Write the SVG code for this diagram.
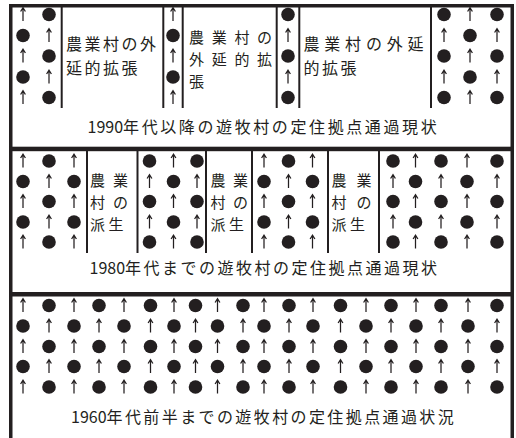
<svg xmlns="http://www.w3.org/2000/svg" width="516" height="438" viewBox="0 0 516 438">
<style>
.t{font-family:"Noto Sans CJK JP","Noto Sans CJK SC",sans-serif;font-size:16px;fill:#231f20;letter-spacing:2.5px}
.s{font-size:15px;letter-spacing:3.5px}
.sep{stroke:#231f20;stroke-width:2}
.bd{fill:#231f20}
</style>
<defs>
<path id="ar" d="M0,6.5V-6.5M-2.4,-3L0,-6.9L2.4,-3" fill="none" stroke="#231f20" stroke-width="1.25"/>
<circle id="dt" r="6.8" fill="#231f20"/>
</defs>
<rect width="516" height="438" fill="#fff"/>
<g id="frame">
<rect class="bd" x="9" y="4" width="505" height="3.5"/>
<rect class="bd" x="9" y="4" width="3.5" height="434"/>
<rect class="bd" x="510.5" y="4" width="3.5" height="434"/>
<rect class="bd" x="9" y="146.7" width="505" height="4.5"/>
<rect class="bd" x="9" y="292" width="505" height="4.5"/>
</g>
<g id="connectors">
<g id="s1-lines" class="sep">
<line x1="61.7" y1="7" x2="61.7" y2="108"/>
<line x1="163.3" y1="7" x2="163.3" y2="108"/>
<line x1="182.7" y1="7" x2="182.7" y2="108"/>
<line x1="276.7" y1="7" x2="276.7" y2="108"/>
<line x1="299.3" y1="7" x2="299.3" y2="108"/>
<line x1="431" y1="7" x2="431" y2="108"/>
</g>
<g id="s2-lines" class="sep">
<line x1="87" y1="151" x2="87" y2="253"/>
<line x1="137.5" y1="151" x2="137.5" y2="253"/>
<line x1="206" y1="151" x2="206" y2="253"/>
<line x1="252" y1="151" x2="252" y2="253"/>
<line x1="328" y1="151" x2="328" y2="253"/>
<line x1="379" y1="151" x2="379" y2="253"/>
</g>
</g>
<g id="section1">
<g id="s1-marks">
<use href="#ar" x="23" y="14.5"/><use href="#dt" x="23" y="35.5"/><use href="#ar" x="23" y="56"/><use href="#dt" x="23" y="77"/><use href="#ar" x="23" y="97.5"/>
<use href="#dt" x="49" y="14.5"/><use href="#ar" x="49" y="35.5"/><use href="#dt" x="49" y="56"/><use href="#ar" x="49" y="77"/><use href="#dt" x="49" y="97.5"/>
<use href="#ar" x="173" y="14.5"/><use href="#dt" x="173" y="35.5"/><use href="#ar" x="173" y="56"/><use href="#dt" x="173" y="77"/><use href="#ar" x="173" y="97.5"/>
<use href="#dt" x="288" y="14.5"/><use href="#ar" x="288" y="35.5"/><use href="#dt" x="288" y="56"/><use href="#ar" x="288" y="77"/><use href="#dt" x="288" y="97.5"/>
<use href="#dt" x="444" y="14.5"/><use href="#ar" x="444" y="35.5"/><use href="#dt" x="444" y="56"/><use href="#ar" x="444" y="77"/><use href="#dt" x="444" y="97.5"/>
<use href="#ar" x="470" y="14.5"/><use href="#dt" x="470" y="35.5"/><use href="#ar" x="470" y="56"/><use href="#dt" x="470" y="77"/><use href="#ar" x="470" y="97.5"/>
<use href="#dt" x="497" y="14.5"/><use href="#ar" x="497" y="35.5"/><use href="#dt" x="497" y="56"/><use href="#ar" x="497" y="77"/><use href="#dt" x="497" y="97.5"/>
</g>
<g id="s1-box1">
<text class="t"><tspan x="66" y="50">農業村の外</tspan><tspan x="66" y="73.5">延的拡張</tspan></text>
</g>
<g id="s1-box2">
<text class="t s"><tspan x="189" y="43.3" style="letter-spacing:7.7px">農業村の</tspan><tspan x="189" y="65" style="letter-spacing:7.7px">外延的拡</tspan><tspan x="189" y="86.7">張</tspan></text>
</g>
<g id="s1-box3">
<text class="t"><tspan x="303.5" y="50" style="letter-spacing:4.8px">農業村の外延</tspan><tspan x="303.5" y="73.5">的拡張</tspan></text>
</g>
<text id="s1-caption" class="t" x="87.5" y="133" style="letter-spacing:0"><tspan>1990</tspan><tspan style="letter-spacing:2.6px">年代以降の遊牧村の定住拠点通過現状</tspan></text>
</g>
<g id="section2">
<g id="s2-marks">
<use href="#ar" x="23" y="161"/><use href="#dt" x="23" y="181.5"/><use href="#ar" x="23" y="201.5"/><use href="#dt" x="23" y="222"/><use href="#ar" x="23" y="242"/>
<use href="#dt" x="49" y="161"/><use href="#ar" x="49" y="181.5"/><use href="#dt" x="49" y="201.5"/><use href="#ar" x="49" y="222"/><use href="#dt" x="49" y="242"/>
<use href="#ar" x="74" y="161"/><use href="#dt" x="74" y="181.5"/><use href="#ar" x="74" y="201.5"/><use href="#dt" x="74" y="222"/><use href="#ar" x="74" y="242"/>
<use href="#dt" x="149.5" y="161"/><use href="#ar" x="149.5" y="181.5"/><use href="#dt" x="149.5" y="201.5"/><use href="#ar" x="149.5" y="222"/><use href="#dt" x="149.5" y="242"/>
<use href="#ar" x="173.5" y="161"/><use href="#dt" x="173.5" y="181.5"/><use href="#ar" x="173.5" y="201.5"/><use href="#dt" x="173.5" y="222"/><use href="#ar" x="173.5" y="242"/>
<use href="#dt" x="197" y="161"/><use href="#ar" x="197" y="181.5"/><use href="#dt" x="197" y="201.5"/><use href="#ar" x="197" y="222"/><use href="#dt" x="197" y="242"/>
<use href="#ar" x="264" y="161"/><use href="#dt" x="264" y="181.5"/><use href="#ar" x="264" y="201.5"/><use href="#dt" x="264" y="222"/><use href="#ar" x="264" y="242"/>
<use href="#dt" x="288.5" y="161"/><use href="#ar" x="288.5" y="181.5"/><use href="#dt" x="288.5" y="201.5"/><use href="#ar" x="288.5" y="222"/><use href="#dt" x="288.5" y="242"/>
<use href="#ar" x="312.5" y="161"/><use href="#dt" x="312.5" y="181.5"/><use href="#ar" x="312.5" y="201.5"/><use href="#dt" x="312.5" y="222"/><use href="#ar" x="312.5" y="242"/>
<use href="#dt" x="393" y="161"/><use href="#ar" x="393" y="181.5"/><use href="#dt" x="393" y="201.5"/><use href="#ar" x="393" y="222"/><use href="#dt" x="393" y="242"/>
<use href="#ar" x="415.5" y="161"/><use href="#dt" x="415.5" y="181.5"/><use href="#ar" x="415.5" y="201.5"/><use href="#dt" x="415.5" y="222"/><use href="#ar" x="415.5" y="242"/>
<use href="#dt" x="441" y="161"/><use href="#ar" x="441" y="181.5"/><use href="#dt" x="441" y="201.5"/><use href="#ar" x="441" y="222"/><use href="#dt" x="441" y="242"/>
<use href="#ar" x="467" y="161"/><use href="#dt" x="467" y="181.5"/><use href="#ar" x="467" y="201.5"/><use href="#dt" x="467" y="222"/><use href="#ar" x="467" y="242"/>
<use href="#dt" x="497" y="161"/><use href="#ar" x="497" y="181.5"/><use href="#dt" x="497" y="201.5"/><use href="#ar" x="497" y="222"/><use href="#dt" x="497" y="242"/>
</g>
<g id="s2-box1">
<text class="t s"><tspan x="90 113" y="186">農業</tspan><tspan x="90 113" y="207.8">村の</tspan><tspan x="90" y="229.6">派生</tspan></text>
</g>
<g id="s2-box2">
<text class="t s"><tspan x="210.5 233" y="186">農業</tspan><tspan x="210.5 233" y="207.8">村の</tspan><tspan x="210.5" y="229.6">派生</tspan></text>
</g>
<g id="s2-box3">
<text class="t s"><tspan x="331.5 356.5" y="186">農業</tspan><tspan x="331.5 356.5" y="207.8">村の</tspan><tspan x="331.5" y="229.6">派生</tspan></text>
</g>
<text id="s2-caption" class="t" x="89.5" y="273.5" style="letter-spacing:0"><tspan>1980</tspan><tspan style="letter-spacing:2.5px">年代までの遊牧村の定住拠点通過現状</tspan></text>
</g>
<g id="section3">
<g id="s3-marks">
<use href="#ar" x="23" y="305.5"/><use href="#dt" x="23" y="326"/><use href="#ar" x="23" y="346.5"/><use href="#dt" x="23" y="366.5"/><use href="#ar" x="23" y="387"/>
<use href="#dt" x="49" y="305.5"/><use href="#ar" x="49" y="326"/><use href="#dt" x="49" y="346.5"/><use href="#ar" x="49" y="366.5"/><use href="#dt" x="49" y="387"/>
<use href="#ar" x="74" y="305.5"/><use href="#dt" x="74" y="326"/><use href="#ar" x="74" y="346.5"/><use href="#dt" x="74" y="366.5"/><use href="#ar" x="74" y="387"/>
<use href="#dt" x="99" y="305.5"/><use href="#ar" x="99" y="326"/><use href="#dt" x="99" y="346.5"/><use href="#ar" x="99" y="366.5"/><use href="#dt" x="99" y="387"/>
<use href="#ar" x="124" y="305.5"/><use href="#dt" x="124" y="326"/><use href="#ar" x="124" y="346.5"/><use href="#dt" x="124" y="366.5"/><use href="#ar" x="124" y="387"/>
<use href="#dt" x="150.5" y="305.5"/><use href="#ar" x="150.5" y="326"/><use href="#dt" x="150.5" y="346.5"/><use href="#ar" x="150.5" y="366.5"/><use href="#dt" x="150.5" y="387"/>
<use href="#ar" x="174" y="305.5"/><use href="#dt" x="174" y="326"/><use href="#ar" x="174" y="346.5"/><use href="#dt" x="174" y="366.5"/><use href="#ar" x="174" y="387"/>
<use href="#dt" x="195.5" y="305.5"/><use href="#ar" x="195.5" y="326"/><use href="#dt" x="195.5" y="346.5"/><use href="#ar" x="195.5" y="366.5"/><use href="#dt" x="195.5" y="387"/>
<use href="#ar" x="217.5" y="305.5"/><use href="#dt" x="217.5" y="326"/><use href="#ar" x="217.5" y="346.5"/><use href="#dt" x="217.5" y="366.5"/><use href="#ar" x="217.5" y="387"/>
<use href="#dt" x="243" y="305.5"/><use href="#ar" x="243" y="326"/><use href="#dt" x="243" y="346.5"/><use href="#ar" x="243" y="366.5"/><use href="#dt" x="243" y="387"/>
<use href="#ar" x="264" y="305.5"/><use href="#dt" x="264" y="326"/><use href="#ar" x="264" y="346.5"/><use href="#dt" x="264" y="366.5"/><use href="#ar" x="264" y="387"/>
<use href="#dt" x="289" y="305.5"/><use href="#ar" x="289" y="326"/><use href="#dt" x="289" y="346.5"/><use href="#ar" x="289" y="366.5"/><use href="#dt" x="289" y="387"/>
<use href="#ar" x="313" y="305.5"/><use href="#dt" x="313" y="326"/><use href="#ar" x="313" y="346.5"/><use href="#dt" x="313" y="366.5"/><use href="#ar" x="313" y="387"/>
<use href="#dt" x="340.5" y="305.5"/><use href="#ar" x="340.5" y="326"/><use href="#dt" x="340.5" y="346.5"/><use href="#ar" x="340.5" y="366.5"/><use href="#dt" x="340.5" y="387"/>
<use href="#ar" x="366" y="305.5"/><use href="#dt" x="366" y="326"/><use href="#ar" x="366" y="346.5"/><use href="#dt" x="366" y="366.5"/><use href="#ar" x="366" y="387"/>
<use href="#dt" x="391" y="305.5"/><use href="#ar" x="391" y="326"/><use href="#dt" x="391" y="346.5"/><use href="#ar" x="391" y="366.5"/><use href="#dt" x="391" y="387"/>
<use href="#ar" x="416" y="305.5"/><use href="#dt" x="416" y="326"/><use href="#ar" x="416" y="346.5"/><use href="#dt" x="416" y="366.5"/><use href="#ar" x="416" y="387"/>
<use href="#dt" x="441" y="305.5"/><use href="#ar" x="441" y="326"/><use href="#dt" x="441" y="346.5"/><use href="#ar" x="441" y="366.5"/><use href="#dt" x="441" y="387"/>
<use href="#ar" x="468" y="305.5"/><use href="#dt" x="468" y="326"/><use href="#ar" x="468" y="346.5"/><use href="#dt" x="468" y="366.5"/><use href="#ar" x="468" y="387"/>
<use href="#dt" x="497" y="305.5"/><use href="#ar" x="497" y="326"/><use href="#dt" x="497" y="346.5"/><use href="#ar" x="497" y="366.5"/><use href="#dt" x="497" y="387"/>
</g>
<text id="s3-caption" class="t" x="71" y="423" style="letter-spacing:0"><tspan>1960</tspan><tspan style="letter-spacing:2.4px">年代前半までの遊牧村の定住拠点通過状況</tspan></text>
</g>
</svg>
